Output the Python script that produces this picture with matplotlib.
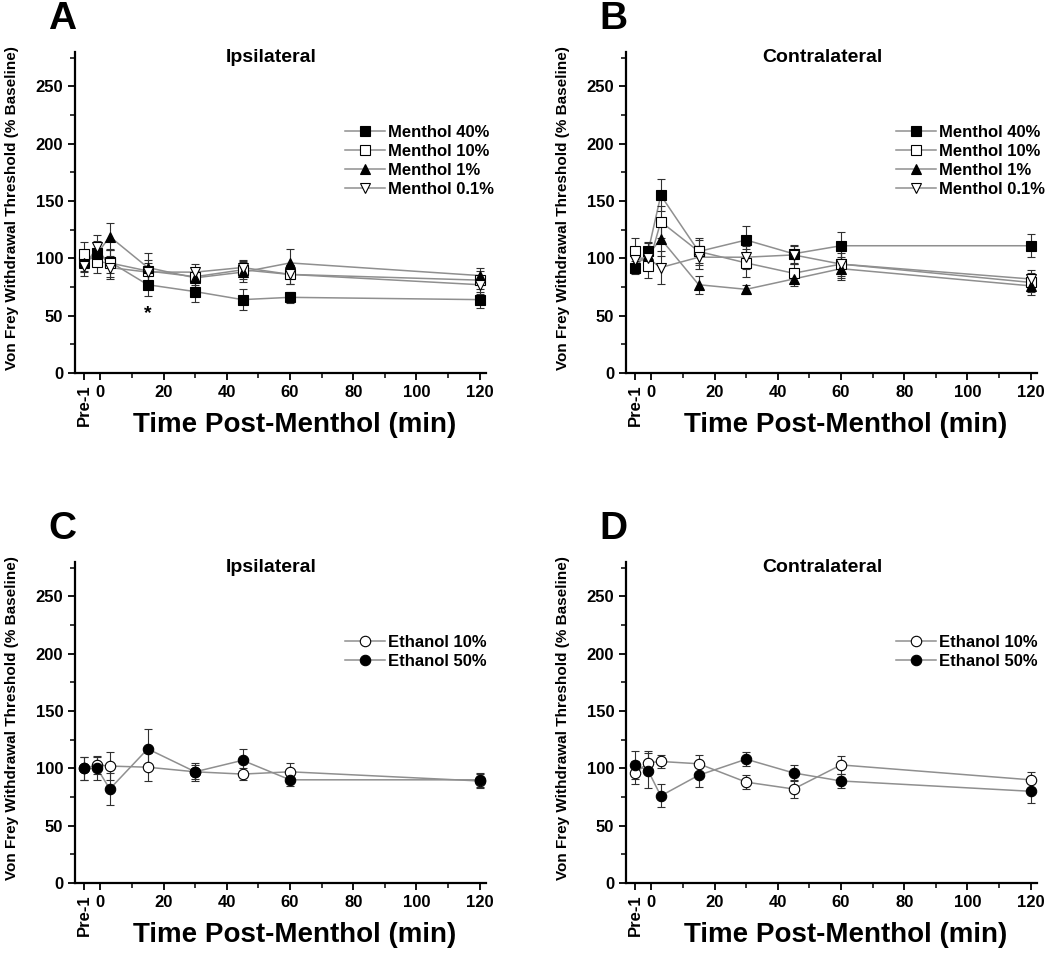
import numpy as np
import matplotlib
matplotlib.use('Agg')
import matplotlib.pyplot as plt
from matplotlib.ticker import MultipleLocator

plt.rcParams['font.family'] = ['Liberation Sans', 'DejaVu Sans']
plt.rcParams['font.weight'] = 'bold'

# time points (min); first point is the "Pre-1" baseline
times = [-5, -1, 3, 15, 30, 45, 60, 120]

# Panel A - menthol, ipsilateral
m40_ipsi = [97, 105, 97, 77, 71, 64, 66, 64]
m40_ipsi_err = [8, 10, 10, 10, 9, 9, 5, 7]
m10_ipsi = [104, 97, 96, 89, 84, 90, 86, 81]
m10_ipsi_err = [10, 10, 12, 10, 7, 8, 8, 8]
m1_ipsi = [96, 104, 119, 92, 83, 88, 96, 85]
m1_ipsi_err = [8, 10, 12, 13, 8, 9, 12, 7]
m01_ipsi = [93, 110, 92, 88, 88, 92, 86, 77]
m01_ipsi_err = [8, 10, 10, 8, 7, 7, 8, 8]

# Panel B - menthol, contralateral
m40_contra = [92, 106, 155, 106, 116, 104, 111, 111]
m40_contra_err = [6, 8, 14, 10, 12, 8, 12, 10]
m10_contra = [106, 93, 132, 106, 96, 87, 95, 79]
m10_contra_err = [12, 10, 14, 12, 12, 8, 10, 8]
m1_contra = [95, 103, 117, 77, 73, 82, 91, 76]
m1_contra_err = [6, 10, 15, 8, 4, 6, 10, 8]
m01_contra = [99, 100, 92, 101, 101, 103, 95, 82]
m01_contra_err = [8, 10, 14, 10, 10, 8, 12, 8]

# Panel C - ethanol, ipsilateral
e10_ipsi = [100, 103, 102, 101, 97, 95, 97, 89]
e10_ipsi_err = [10, 8, 12, 12, 6, 5, 8, 6]
e50_ipsi = [100, 100, 82, 117, 97, 107, 90, 90]
e50_ipsi_err = [10, 10, 14, 17, 8, 10, 5, 6]

# Panel D - ethanol, contralateral
e10_contra = [96, 105, 106, 104, 88, 82, 103, 90]
e10_contra_err = [10, 10, 6, 8, 6, 8, 8, 7]
e50_contra = [103, 98, 76, 94, 108, 96, 89, 80]
e50_contra_err = [12, 15, 10, 10, 6, 7, 6, 10]

menthol_labels = ['Menthol 40%', 'Menthol 10%', 'Menthol 1%', 'Menthol 0.1%']
ethanol_labels = ['Ethanol 10%', 'Ethanol 50%']

xtick_vals = [-5, 0, 20, 40, 60, 80, 100, 120]
xtick_labels = ['Pre-1', '0', '20', '40', '60', '80', '100', '120']

line_col = '#8f8f8f'
err_col = '#303030'

# marker, face colour, size
menthol_styles = [('s', 'black', 6.5), ('s', 'white', 6.5), ('^', 'black', 7.5), ('v', 'white', 7.5)]
ethanol_styles = [('o', 'white', 7.5), ('o', 'black', 7.5)]

fig = plt.figure(figsize=(10.5, 9.6), dpi=100)
W, H = 1050.0, 960.0
AX_W, AX_H = 411, 321


def make_axes(left_px, bottom_px):
    ax = fig.add_axes([left_px / W, 1 - bottom_px / H, AX_W / W, AX_H / H])
    ax.spines['top'].set_visible(False)
    ax.spines['right'].set_visible(False)
    ax.spines['left'].set_linewidth(1.6)
    ax.spines['bottom'].set_linewidth(1.6)
    ax.set_xlim(-8, 122)
    ax.set_ylim(0, 280)
    ax.yaxis.set_major_locator(MultipleLocator(50))
    ax.yaxis.set_minor_locator(MultipleLocator(25))
    ax.set_xticks(xtick_vals)
    ax.set_xticklabels(xtick_labels)
    ax.set_xticks([10, 30, 50, 70, 90, 110], minor=True)
    ax.tick_params(which='major', direction='out', length=5, width=1.3, labelsize=12)
    ax.tick_params(which='minor', direction='out', length=3.5, width=1.1)
    for lab in ax.get_xticklabels() + ax.get_yticklabels():
        lab.set_fontweight('bold')
    pre = ax.get_xticklabels()[0]
    pre.set_rotation(90)
    pre.set_va('top')
    ax.set_xlabel('Time Post-Menthol (min)', fontsize=20, fontweight='bold')
    ax.xaxis.set_label_coords(0.535, -0.162)
    ax.xaxis.label.set_va('center')
    return ax


def draw(ax, series, errs, styles, labels):
    for y, e, (m, fc, ms), lab in zip(series, errs, styles, labels):
        ax.plot(times, y, color=line_col, lw=1.1, zorder=2)
        ax.errorbar(times, y, yerr=e, fmt='none', ecolor=err_col, elinewidth=0.8,
                    capsize=3, capthick=0.8, zorder=3)
        ax.plot(times, y, ls='none', marker=m, mfc=fc, mec='black', mew=0.8,
                ms=ms, zorder=4)
    handles = []
    for (m, fc, ms), lab in zip(styles, labels):
        h, = ax.plot([], [], color=line_col, lw=1.1, marker=m, mfc=fc, mec='black',
                     mew=0.8, ms=ms, label=lab)
        handles.append(h)
    return handles


panels = [
    ('A', 75, 373, 'Ipsilateral', [m40_ipsi, m10_ipsi, m1_ipsi, m01_ipsi],
     [m40_ipsi_err, m10_ipsi_err, m1_ipsi_err, m01_ipsi_err], menthol_styles, menthol_labels),
    ('B', 626, 373, 'Contralateral', [m40_contra, m10_contra, m1_contra, m01_contra],
     [m40_contra_err, m10_contra_err, m1_contra_err, m01_contra_err], menthol_styles, menthol_labels),
    ('C', 75, 883, 'Ipsilateral', [e10_ipsi, e50_ipsi],
     [e10_ipsi_err, e50_ipsi_err], ethanol_styles, ethanol_labels),
    ('D', 626, 883, 'Contralateral', [e10_contra, e50_contra],
     [e10_contra_err, e50_contra_err], ethanol_styles, ethanol_labels),
]

for letter, lx, by, title, series, errs, styles, labels in panels:
    ax = make_axes(lx, by)
    handles = draw(ax, series, errs, styles, labels)
    top_px = by - AX_H
    # panel letter and title
    fig.text((lx - 13) / W, 1 - (top_px - 33) / H, letter, fontsize=28,
             fontweight='bold', ha='center', va='center')
    fig.text((lx + 196) / W, 1 - (top_px + 6) / H, title, fontsize=14,
             fontweight='bold', ha='center', va='center')
    # y label
    fig.text((lx - 63) / W, 1 - (by - 165) / H,
             'Von Frey Withdrawal Threshold (% Baseline)', rotation=90,
             fontsize=11, fontweight='bold', ha='center', va='center')
    ax.legend(handles=handles, loc='upper left',
              bbox_to_anchor=((lx + 270) / W, 1 - (top_px + 73) / H),
              bbox_transform=fig.transFigure, frameon=False,
              prop={'size': 12, 'weight': 'bold'}, handlelength=2.4,
              handletextpad=0.2, labelspacing=0.23, borderpad=0, borderaxespad=0)

# significance marker in panel A
fig.axes[0].text(15, 52, '*', fontsize=14, fontweight='bold', ha='center', va='center')

fig.savefig('out.png', dpi=100)
